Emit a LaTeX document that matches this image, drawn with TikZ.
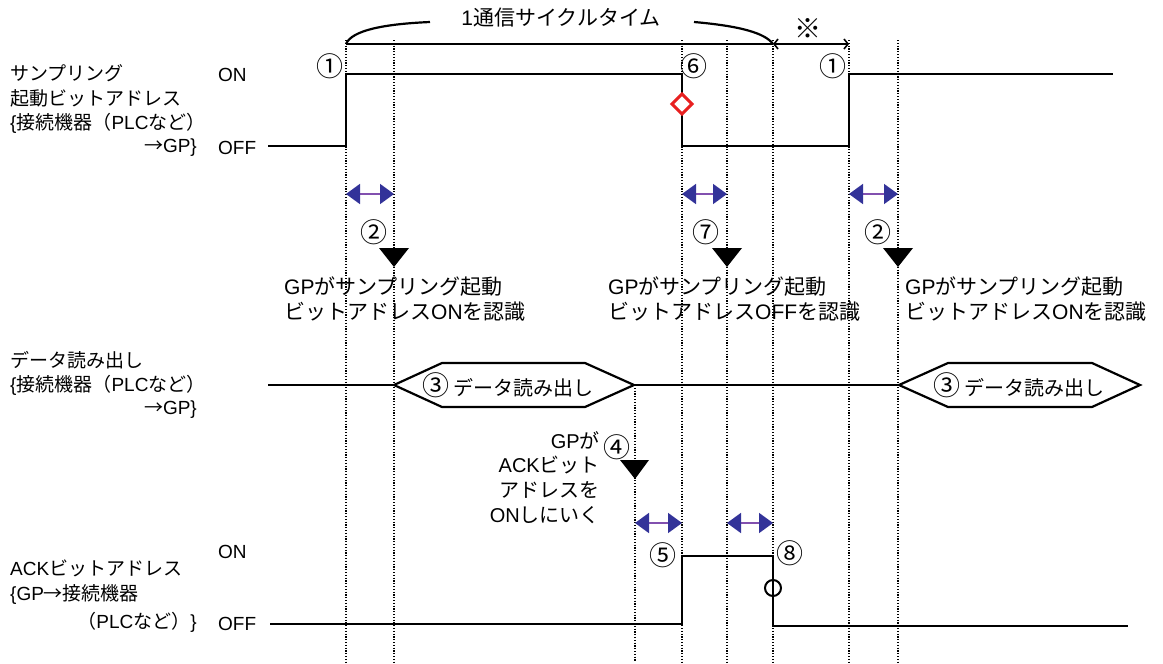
\documentclass[tikz,border=0pt]{standalone}
\usepackage{fontspec}
\setmainfont{Liberation Sans}
\newfontfamily\jp{Noto Sans CJK JP}
\usetikzlibrary{arrows.meta}
\definecolor{ablue}{RGB}{51,51,153}
\definecolor{apurple}{RGB}{130,80,175}
\definecolor{dred}{RGB}{232,32,32}
\begin{document}
\begin{tikzpicture}[x=1pt,y=-1pt,
  sig/.style={line width=2.6pt},
  vgrid/.style={line width=1.4pt, dash pattern=on 1.2pt off 1.6pt},
  lab/.style={anchor=west, inner sep=0pt, font=\fontsize{19}{22}\selectfont},
  labr/.style={anchor=east, inner sep=0pt, font=\fontsize{19}{22}\selectfont},
  rec/.style={anchor=west, inner sep=0pt, font=\fontsize{21}{24}\selectfont},
  num/.style={inner sep=0pt, font=\fontsize{27}{28}\selectfont\jp},
  dbl/.style={apurple, line width=1.8pt,
    {Triangle[length=14pt,width=20pt,color=ablue]}-{Triangle[length=14pt,width=20pt,color=ablue]}},
  tri/.style={fill=black},
  hexa/.style={line width=2.2pt, fill=white}]
\useasboundingbox (0,0) rectangle (1163,664);
\fill[white] (0,0) rectangle (1163,664);

% dotted vertical lines
\foreach \x in {346,394,682,727,773,849,898}
  \draw[vgrid] (\x,40) -- (\x,662);
\draw[vgrid] (635,385) -- (635,662);

% top brace and cycle time
\node[inner sep=0pt, font=\fontsize{21}{24}\selectfont] (cyc) at (561,18) {1{\jp 通信サイクルタイム}};
\draw[line width=1.6pt] (346,44) -- (773,44);
\draw[line width=2.2pt] (346,44) .. controls (352,30) and (385,24) .. (430,22);
\draw[line width=2.2pt] (694,22) .. controls (740,26) and (765,33) .. (773,44);
\draw[line width=1.6pt, {Straight Barb[length=4pt,width=10pt]}-{Straight Barb[length=4pt,width=10pt]}] (773,44) -- (849,44);
\node[inner sep=0pt, font=\fontsize{27}{28}\selectfont\jp] (kome) at (808,29) {※};

% left labels: sampling start bit
\node[lab] (s1) at (10,73) {\jp サンプリング};
\node[lab] (s2) at (10,98) {\jp 起動ビットアドレス};
\node[lab] (s3) at (10,123) {\{{\jp 接続機器（}PLC{\jp など）}};
\node[labr] (s4) at (197,148) {{\jp →}GP\}};
\node[lab] (on1) at (218,75) {ON};
\node[lab] (off1) at (218,148) {OFF};

% data read labels
\node[lab] (d1) at (10,360) {\jp データ読み出し};
\node[lab] (d2) at (10,385) {\{{\jp 接続機器（}PLC{\jp など）}};
\node[labr] (d3) at (197,410) {{\jp →}GP\}};

% ACK labels
\node[lab] (a1) at (10,568) {ACK{\jp ビットアドレス}};
\node[lab] (a2) at (10,594) {\{GP{\jp →接続機器}};
\node[labr] (a3) at (197,622) {{\jp （}PLC{\jp など）}\}};
\node[lab] (on2) at (218,552) {ON};
\node[lab] (off2) at (218,624) {OFF};

% sampling signal
\draw[sig] (268,146) -- (346,146) -- (346,74) -- (682,74) -- (682,146) -- (849,146) -- (849,74) -- (1113,74);
\draw[dred, line width=3pt, fill=white] (682,94) -- (692,104) -- (682,114) -- (672,104) -- cycle;

% circled numbers
\node[num] (n1a) at (330,66) {①};
\node[num] (n6) at (694,66) {⑥};
\node[num] (n1b) at (833,66) {①};
\node[num] (n2a) at (374,232) {②};
\node[num] (n7) at (706,232) {⑦};
\node[num] (n2b) at (878,232) {②};
\node[num] (n4) at (617,447) {④};
\node[num] (n5) at (663,555) {⑤};
\node[num] (n8) at (790,553) {⑧};

% double arrows
\draw[dbl] (346,194) -- (394,194);
\draw[dbl] (682,194) -- (727,194);
\draw[dbl] (849,194) -- (898,194);
\draw[dbl] (635,523) -- (682,523);
\draw[dbl] (727,523) -- (773,523);

% black triangles
\foreach \x in {394,727,898}
  \fill[tri] (\x-15,248) -- (\x+15,248) -- (\x,267) -- cycle;
\fill[tri] (620,460) -- (649,460) -- (635,479) -- cycle;

% recognition texts
\node[rec] (r1a) at (284,287) {GP{\jp がサンプリング起動}};
\node[rec] (r1b) at (284,312) {{\jp ビットアドレス}ON{\jp を認識}};
\node[rec] (r2a) at (608,287) {GP{\jp がサンプリング起動}};
\node[rec] (r2b) at (608,312) {{\jp ビットアドレス}OFF{\jp を認識}};
\node[rec] (r3a) at (905,287) {GP{\jp がサンプリング起動}};
\node[rec] (r3b) at (905,312) {{\jp ビットアドレス}ON{\jp を認識}};

% data read signal
\draw[sig] (268,385) -- (394,385);
\draw[sig] (634,385) -- (899,385);
\draw[hexa] (394,385) -- (442,363) -- (585,363) -- (634,385) -- (585,407) -- (442,407) -- cycle;
\draw[hexa] (899,385) -- (948,363) -- (1092,363) -- (1140,385) -- (1092,407) -- (948,407) -- cycle;
\node[inner sep=0pt, font=\fontsize{20}{22}\selectfont\jp] (h1) at (508,385) {\fontsize{27}{28}\selectfont③\fontsize{20}{22}\selectfont{} データ読み出し};
\node[inner sep=0pt, font=\fontsize{20}{22}\selectfont\jp] (h2) at (1019,385) {\fontsize{27}{28}\selectfont③\fontsize{20}{22}\selectfont{} データ読み出し};

% GP ACK text
\node[labr, font=\fontsize{20}{22}\selectfont] (g1) at (600,440) {GP{\jp が}};
\node[labr, font=\fontsize{20}{22}\selectfont] (g2) at (600,465) {ACK{\jp ビット}};
\node[labr, font=\fontsize{20}{22}\selectfont] (g3) at (600,490) {\jp アドレスを};
\node[labr, font=\fontsize{20}{22}\selectfont] (g4) at (600,515) {ON{\jp しにいく}};

% ACK signal
\draw[sig] (270,624) -- (682,624) -- (682,556) -- (773,556) -- (773,626) -- (1128,626);
\draw[line width=2pt] (773,588) circle (8);
\end{tikzpicture}
\end{document}
